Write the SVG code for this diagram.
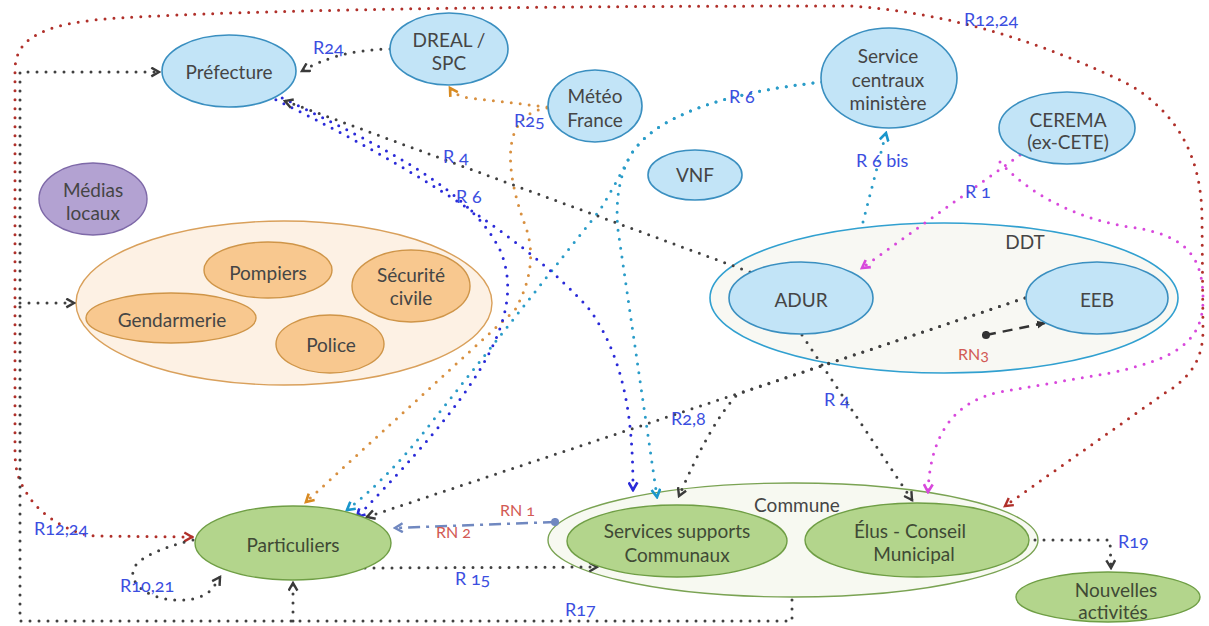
<svg xmlns="http://www.w3.org/2000/svg" width="1209" height="626" viewBox="0 0 1209 626">
<style>
text{font-family:Lato,"Liberation Sans",sans-serif;font-variant-numeric:oldstyle-nums}
.n{font-size:19px;fill:#454545;text-anchor:middle}
.g{font-size:19px;fill:#404a35;text-anchor:middle}
.lb{font-size:18px;fill:#3b4ee0}
.lr{font-size:16px;fill:#d25a55}
.blue{fill:#c2e4f7;stroke:#3a8fc0;stroke-width:1.6}
.org{fill:#f8c88f;stroke:#cf9548;stroke-width:1.4}
.grn{fill:#b3d58c;stroke:#6f9e45;stroke-width:1.4}
.d{fill:none;stroke-width:3;stroke-linecap:round;stroke-dasharray:0 9}
.k{stroke:#404040}
.r{stroke:#b0302a}
.o{stroke:#d89040}
.t{stroke:#2a9cc8}
.b{stroke:#2a2ad8}
.m{stroke:#d848dc}
</style>
<defs>
<marker id="ak" viewBox="0 0 10 10" refX="8" refY="5" markerWidth="11" markerHeight="11" markerUnits="userSpaceOnUse" orient="auto-start-reverse"><path d="M1,1 L8,5 L1,9" fill="none" stroke="#3a3a3a" stroke-width="2.2"/></marker>
<marker id="ar" viewBox="0 0 10 10" refX="8" refY="5" markerWidth="11" markerHeight="11" markerUnits="userSpaceOnUse" orient="auto-start-reverse"><path d="M1,1 L8,5 L1,9" fill="none" stroke="#b0302a" stroke-width="2.2"/></marker>
<marker id="ao" viewBox="0 0 10 10" refX="8" refY="5" markerWidth="11" markerHeight="11" markerUnits="userSpaceOnUse" orient="auto"><path d="M1,1 L8,5 L1,9" fill="none" stroke="#d88a20" stroke-width="2.4"/></marker>
<marker id="at" viewBox="0 0 10 10" refX="8" refY="5" markerWidth="11" markerHeight="11" markerUnits="userSpaceOnUse" orient="auto"><path d="M1,1 L8,5 L1,9" fill="none" stroke="#1a96cc" stroke-width="2.4"/></marker>
<marker id="ab" viewBox="0 0 10 10" refX="8" refY="5" markerWidth="11" markerHeight="11" markerUnits="userSpaceOnUse" orient="auto"><path d="M1,1 L8,5 L1,9" fill="none" stroke="#2a2ad8" stroke-width="2.4"/></marker>
<marker id="am" viewBox="0 0 10 10" refX="8" refY="5" markerWidth="11" markerHeight="11" markerUnits="userSpaceOnUse" orient="auto"><path d="M1,1 L8,5 L1,9" fill="none" stroke="#d848dc" stroke-width="2.4"/></marker>
<marker id="ag" viewBox="0 0 10 10" refX="8" refY="5" markerWidth="11" markerHeight="11" markerUnits="userSpaceOnUse" orient="auto"><path d="M1,1 L8,5 L1,9" fill="none" stroke="#7088c0" stroke-width="2.2"/></marker>
<marker id="dotg" viewBox="0 0 10 10" refX="5" refY="5" markerWidth="9" markerHeight="9" markerUnits="userSpaceOnUse"><circle cx="5" cy="5" r="4.5" fill="#7088c0"/></marker>
<marker id="dotk" viewBox="0 0 10 10" refX="5" refY="5" markerWidth="9" markerHeight="9" markerUnits="userSpaceOnUse"><circle cx="5" cy="5" r="4.5" fill="#333"/></marker>
<marker id="tri" viewBox="0 0 10 10" refX="8" refY="5" markerWidth="10" markerHeight="10" markerUnits="userSpaceOnUse" orient="auto"><path d="M0,1 L9,5 L0,9 Z" fill="#333"/></marker>
</defs>

<!-- containers -->
<g id="groupe-secours">
<ellipse cx="284" cy="303" rx="208" ry="82" fill="#fdf1e4" stroke="#d9a05b" stroke-width="1.4"/>
</g>
<g id="ddt">
<ellipse cx="944" cy="298" rx="234" ry="75" fill="#f8f8f3" stroke="#31a0d0" stroke-width="1.6"/>
<text class="n" x="1025" y="249">DDT</text>
</g>
<g id="commune">
<ellipse cx="793" cy="540" rx="245" ry="57" fill="#f7f9f1" stroke="#7aa353" stroke-width="1.4"/>
<text class="n" x="797" y="512">Commune</text>
</g>

<!-- connectors -->
<g id="connectors">
<path class="d r" d="M192,537 L95,536 C70,534 40,515 28,495 C18,480 15,470 15,450 L15,70 C15,35 50,22 120,18 C250,10 500,6 850,6 C950,12 1050,45 1130,85 C1180,115 1202,160 1202,220 L1203,330 C1203,360 1190,378 1165,393 L1005,506" marker-start="url(#ar)" marker-end="url(#ar)"/>
<path class="d k" d="M792,600 L792,621 L20,621 L20,72 L159,72" marker-end="url(#ak)"/>
<path class="d k" d="M20,303 L74,303" marker-end="url(#ak)"/>
<path class="d k" d="M293,621 L293,583" marker-end="url(#ak)"/>
<path class="d k" d="M390,49 C350,50 325,58 302,71" marker-end="url(#ak)"/>
<path class="d o" d="M547,107 L470,98 Q455,96 450,88" marker-end="url(#ao)"/>
<path class="d o" d="M547,108 C500,115 505,170 525,225 Q540,265 515,310 L306,502" marker-end="url(#ao)"/>
<path class="d t" d="M822,82 C730,92 650,115 628,160 Q614,190 618,230 L657,497" marker-end="url(#at)"/>
<path class="d t" d="M822,82 C730,92 650,115 628,160 Q615,185 600,210 L420,437 Q385,480 347,510" marker-end="url(#at)"/>
<path class="d b" d="M268,96 C380,150 520,230 590,310 C625,360 633,420 633,490" marker-end="url(#ab)"/>
<path class="d b" d="M274,94 C390,150 470,190 500,250 C530,320 470,400 357,517" marker-end="url(#ab)"/>
<path class="d k" d="M750,272 L285,101" marker-end="url(#ak)"/>
<path class="d k" d="M802,335 L912,500" marker-end="url(#ak)"/>
<path class="d k" d="M1025,298 L367,517" marker-end="url(#ak)"/>
<path class="d k" d="M1025,298 L738,394 Q712,420 679,496" marker-end="url(#ak)"/>
<path class="d m" d="M1020,155 L862,268" marker-end="url(#am)"/>
<path class="d m" d="M1000,162 C1030,195 1080,220 1130,227 C1190,235 1203,260 1203,300 C1203,345 1170,360 1110,373 L1000,392 C950,402 930,440 928,492" marker-end="url(#am)"/>
<path class="d t" d="M863,222 L886,133" marker-end="url(#at)"/>
<path d="M986,335 L1045,323" fill="none" stroke="#333" stroke-width="2.5" stroke-dasharray="10 7" marker-start="url(#dotk)" marker-end="url(#tri)"/>
<path d="M555,522 L395,528" fill="none" stroke="#7088c0" stroke-width="2.5" stroke-dasharray="12 6 3 6" marker-start="url(#dotg)" marker-end="url(#ag)"/>
<path class="d k" d="M365,568 L597,567" marker-end="url(#ak)"/>
<path class="d k" d="M193,540 C160,548 130,560 133,575 C135,600 195,610 213,588 L220,577" marker-end="url(#ak)"/>
<path class="d k" d="M1035,540 L1110,540 L1111,568" marker-end="url(#ak)"/>
</g>

<!-- nodes -->
<g id="prefecture"><ellipse class="blue" cx="229" cy="71" rx="67" ry="36"/><text class="n" x="229" y="79">Préfecture</text></g>
<g id="dreal-spc"><ellipse class="blue" cx="449" cy="49" rx="59" ry="36"/><text class="n" x="449" y="47">DREAL /</text><text class="n" x="449" y="70">SPC</text></g>
<g id="meteo-france"><ellipse class="blue" cx="595" cy="106" rx="47" ry="36"/><text class="n" x="595" y="103">Météo</text><text class="n" x="595" y="127">France</text></g>
<g id="vnf"><ellipse class="blue" cx="695" cy="175" rx="47" ry="25"/><text class="n" x="695" y="182">VNF</text></g>
<g id="service-centraux"><ellipse class="blue" cx="889" cy="78" rx="68" ry="50"/><text class="n" x="888" y="63">Service</text><text class="n" x="888" y="87">centraux</text><text class="n" x="888" y="110">ministère</text></g>
<g id="cerema"><ellipse class="blue" cx="1067" cy="128" rx="68" ry="36"/><text class="n" x="1068" y="127">CEREMA</text><text class="n" x="1068" y="149">(ex-CETE)</text></g>
<g id="medias-locaux"><ellipse cx="93" cy="199" rx="54" ry="36" fill="#b3a2d2" stroke="#7e69a8" stroke-width="1.4"/><text class="n" x="93" y="197">Médias</text><text class="n" x="93" y="220">locaux</text></g>
<g id="pompiers"><ellipse class="org" cx="268" cy="270" rx="64" ry="28"/><text class="n" x="268" y="280">Pompiers</text></g>
<g id="gendarmerie"><ellipse class="org" cx="171" cy="318" rx="85" ry="25"/><text class="n" x="172" y="327">Gendarmerie</text></g>
<g id="police"><ellipse class="org" cx="330" cy="344" rx="54" ry="29"/><text class="n" x="331" y="352">Police</text></g>
<g id="securite-civile"><ellipse class="org" cx="411" cy="286" rx="59" ry="36"/><text class="n" x="411" y="282">Sécurité</text><text class="n" x="411" y="305">civile</text></g>
<g id="adur"><ellipse class="blue" cx="801" cy="298" rx="72" ry="36"/><text class="n" x="801" y="307">ADUR</text></g>
<g id="eeb"><ellipse class="blue" cx="1097" cy="298" rx="71" ry="36"/><text class="n" x="1097" y="307">EEB</text></g>
<g id="particuliers"><ellipse class="grn" cx="293" cy="543" rx="98" ry="37"/><text class="g" x="293" y="552">Particuliers</text></g>
<g id="services-supports"><ellipse class="grn" cx="677" cy="541" rx="110" ry="36"/><text class="g" x="677" y="538">Services supports</text><text class="g" x="677" y="562">Communaux</text></g>
<g id="elus"><ellipse class="grn" cx="917" cy="540" rx="112" ry="37"/><text class="g" x="910" y="538">Élus - Conseil</text><text class="g" x="914" y="561">Municipal</text></g>
<g id="nouvelles-activites"><ellipse class="grn" cx="1108" cy="597" rx="92" ry="25"/><text class="g" x="1116" y="597">Nouvelles</text><text class="g" x="1113" y="619">activités</text></g>

<!-- labels -->
<g id="labels">
<text class="lb" x="313" y="54">R24</text>
<text class="lb" x="514" y="127">R25</text>
<text class="lb" x="443" y="163">R 4</text>
<text class="lb" x="456" y="203">R 6</text>
<text class="lb" x="729" y="103">R 6</text>
<text class="lb" x="856" y="167">R 6 bis</text>
<text class="lb" x="964" y="26">R12,24</text>
<text class="lb" x="965" y="198">R 1</text>
<text class="lb" x="824" y="406">R 4</text>
<text class="lb" x="671" y="425">R2,8</text>
<text class="lr" x="958" y="360">RN3</text>
<text class="lr" x="500" y="516">RN 1</text>
<text class="lr" x="436" y="538">RN 2</text>
<text class="lb" x="455" y="585">R 15</text>
<text class="lb" x="565" y="616">R17</text>
<text class="lb" x="1118" y="548">R19</text>
<text class="lb" x="34" y="535">R12,24</text>
<text class="lb" x="120" y="592">R10,21</text>
</g>
</svg>
